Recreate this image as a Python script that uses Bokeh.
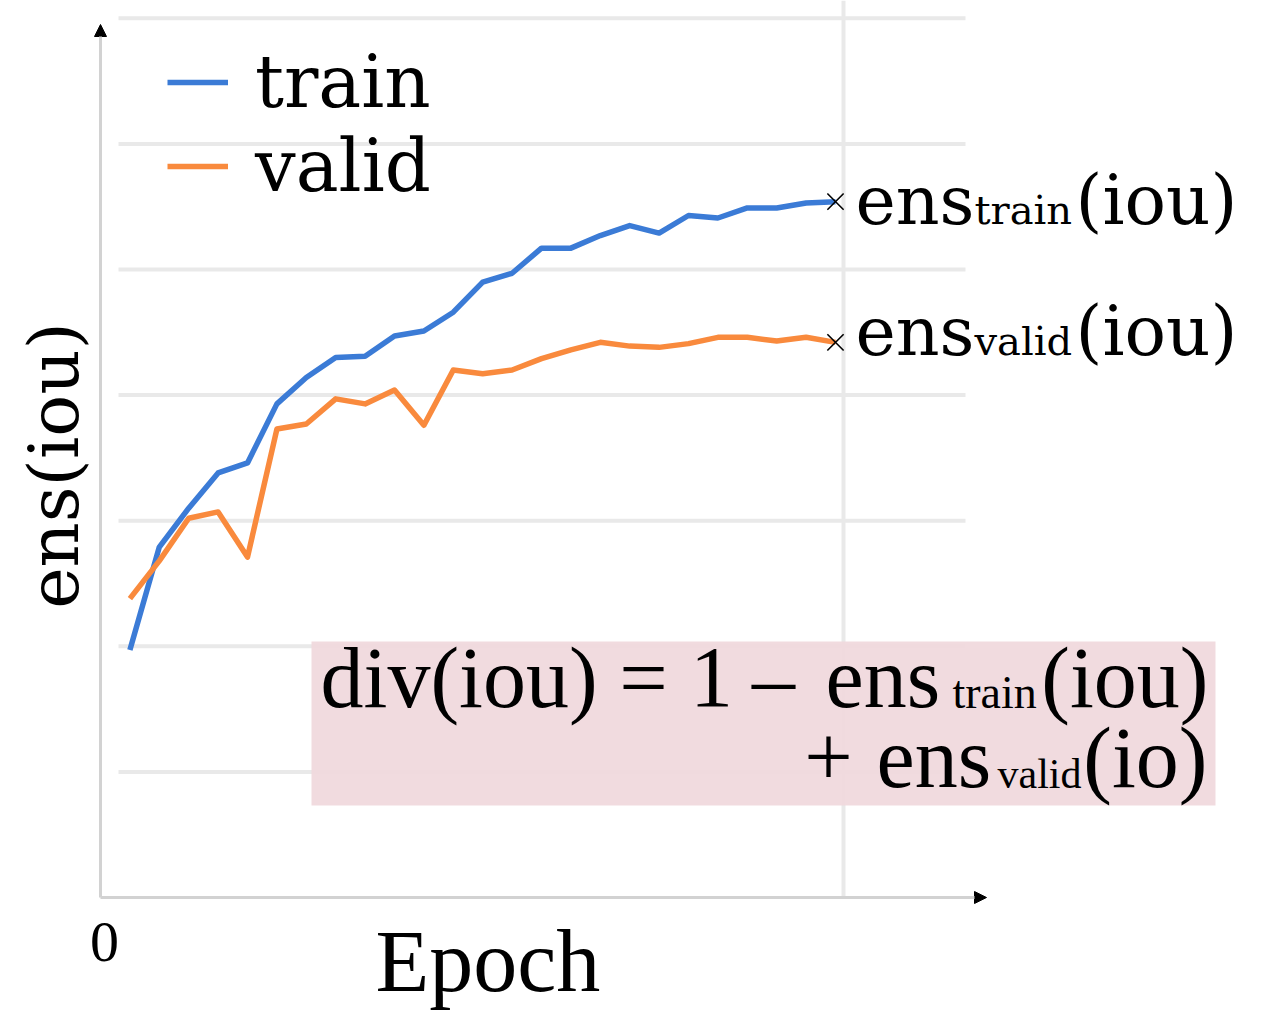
import math
from bokeh.plotting import figure
from bokeh.models import (Label, Legend, LegendItem, Arrow, NormalHead,
                          BoxAnnotation, Range1d)
from bokeh.embed import file_html
from bokeh.resources import INLINE

# ---------------- data ----------------
epochs = list(range(1, 26))
train_iou = [0.197, 0.279, 0.310, 0.338, 0.346, 0.393, 0.414, 0.430, 0.431,
             0.447, 0.451, 0.466, 0.490, 0.497, 0.517, 0.517, 0.527, 0.535,
             0.529, 0.543, 0.541, 0.549, 0.549, 0.553, 0.554]
valid_iou = [0.238, 0.268, 0.302, 0.307, 0.271, 0.373, 0.377, 0.397, 0.393,
             0.404, 0.376, 0.420, 0.417, 0.420, 0.429, 0.436, 0.442, 0.439,
             0.438, 0.441, 0.446, 0.446, 0.443, 0.446, 0.442]
grid_levels = [0.1, 0.2, 0.3, 0.4, 0.5, 0.6, 0.7]
x_tick_label = "0"
series_names = ["train", "valid"]

# ---------------- layout helpers (picture pixels -> data) ----------------
W, H = 1264, 1020
PX = 29.4      # pixels per epoch
PY = 1256.0    # pixels per unit of iou
OX, OY = 100, 897   # picture position of the origin


def dx(px):
    return (px - OX) / PX


def dy(py):
    return (OY - py) / PY


p = figure(width=W, height=H,
           x_range=Range1d(dx(0), dx(W)), y_range=Range1d(dy(H), dy(0)),
           output_backend="svg", toolbar_location=None,
           x_axis_location=None, y_axis_location=None,
           min_border=0, min_border_left=0, min_border_right=0,
           min_border_top=0, min_border_bottom=0,
           outline_line_color=None, background_fill_color="white")
p.grid.visible = False

GRID = "#e9e9e9"
n = len(grid_levels)
p.segment(x0=[dx(118)] * n, y0=grid_levels, x1=[dx(965)] * n, y1=grid_levels,
          line_color=GRID, line_width=4)
p.segment(x0=[dx(843)], y0=[0], x1=[dx(843)], y1=[dy(0)],
          line_color=GRID, line_width=4)

# axes with arrow heads
p.add_layout(Arrow(end=NormalHead(size=12, fill_color="black", line_color="black", line_width=1),
                   x_start=0, y_start=0, x_end=0, y_end=dy(24),
                   line_color="#d2d2d2", line_width=3))
p.add_layout(Arrow(end=NormalHead(size=12, fill_color="black", line_color="black", line_width=1),
                   x_start=0, y_start=0, x_end=dx(986), y_end=0,
                   line_color="#d2d2d2", line_width=3))

BLUE = "#3b7bd6"
ORANGE = "#f98a3d"
r_train = p.line(epochs, train_iou, line_color=BLUE, line_width=5.5, line_join="round")
r_valid = p.line(epochs, valid_iou, line_color=ORANGE, line_width=5.5, line_join="round")

p.scatter([epochs[-1], epochs[-1]], [train_iou[-1], valid_iou[-1]], marker="x",
          size=23, line_color="black", line_width=1.6)

legend = Legend(items=[LegendItem(label=series_names[0], renderers=[r_train]),
                       LegendItem(label=series_names[1], renderers=[r_valid])],
                location=(167, 812), orientation="vertical", padding=0, margin=0,
                spacing=0, glyph_width=61, glyph_height=20, label_height=20,
                label_standoff=27, label_text_font="DejaVu Serif",
                label_text_font_size="72px", label_text_color="black",
                label_text_line_height=1.0,
                border_line_color=None, background_fill_alpha=0)
p.add_layout(legend)

p.add_layout(BoxAnnotation(left=dx(311), right=dx(1215), top=dy(641), bottom=dy(805),
                           fill_color="#f0d9dd", fill_alpha=0.94, line_color=None))

SHIFT = 0.355   # Bokeh places the alphabetic baseline this fraction of the size lower


def lab(text, px, py, size, font, align="left", angle=0.0):
    if angle:
        x, y = dx(px - SHIFT * size), dy(py)
    else:
        x, y = dx(px), dy(py - SHIFT * size)
    p.add_layout(Label(x=x, y=y, text=text, text_font=font,
                       text_font_size=f"{size}px", text_align=align,
                       text_baseline="alphabetic", angle=angle,
                       text_color="black"))


DV = "DejaVu Serif"
LS = "Liberation Serif"

# end-of-line annotations
lab("ens", 855, 224, 68, DV)
lab("train", 974, 224, 40, DV)
lab("(iou)", 1075, 224, 69, DV)
lab("ens", 855, 355, 68, DV)
lab("valid", 974, 355, 40, DV)
lab("(iou)", 1075, 355, 69, DV)

# formula
lab("div(iou)", 320, 708, 86, LS)
lab("=", 643, 708, 86, LS, "center")
lab("1", 711, 708, 86, LS, "center")
lab("\u2013", 773, 708, 86, LS, "center")
lab("ens", 825, 708, 86, LS)
lab("train", 952, 708, 46, LS)
lab("(iou)", 1208, 708, 86, LS, "right")
lab("+", 828, 788, 86, LS, "center")
lab("ens", 876, 788, 86, LS)
lab("valid", 997, 788, 42, LS)
lab("(io)", 1207, 788, 86, LS, "right")

# axis texts
lab(x_tick_label, 104, 962, 58, LS, "center")
lab("Epoch", 375, 992, 88, LS)
lab("ens(iou)", 78, 465, 70, DV, "center", math.pi / 2)

open("out.html", "w").write(file_html(p, INLINE))
